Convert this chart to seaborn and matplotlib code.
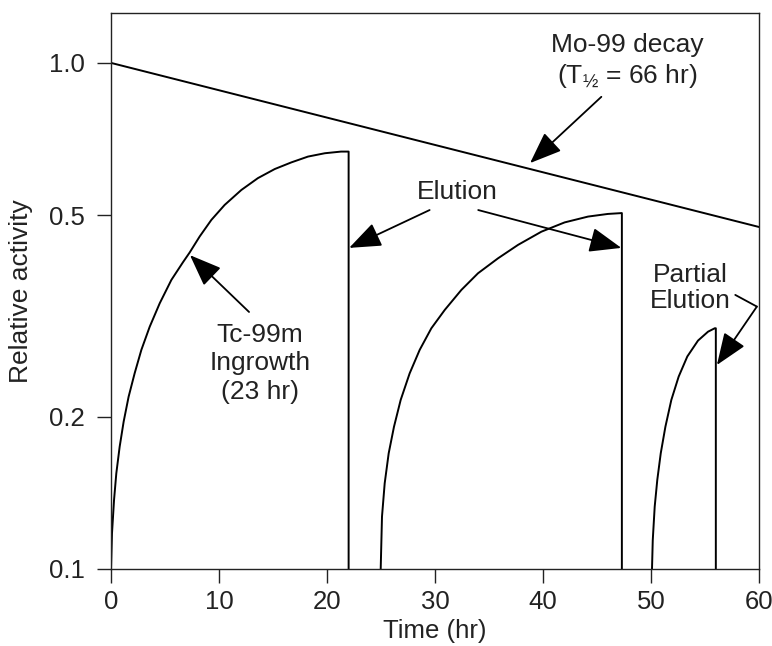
import pandas as pd
import matplotlib
matplotlib.use('Agg')
import matplotlib.pyplot as plt
import seaborn as sns

# Mo-99 parent decay (straight line on log axis)
mo_t = [0.0, 60.0]
mo_a = [1.0, 0.474]

# Tc-99m ingrowth, first cycle (eluted at 22 hr)
tc1_t = [0.0, 0.09, 0.28, 0.49, 0.80, 1.17, 1.63, 2.19, 2.81, 3.58, 4.51, 5.59, 6.67, 7.28,
         8.21, 9.29, 10.52, 12.07, 13.6, 15.16, 16.7, 18.24, 19.8, 21.3, 22.0, 22.0]
tc1_a = [0.1, 0.1176, 0.1369, 0.1545, 0.1744, 0.1955, 0.219, 0.2437, 0.271, 0.301, 0.335,
         0.3726, 0.404, 0.422, 0.454, 0.4895, 0.524, 0.561, 0.592, 0.617, 0.636, 0.653,
         0.663, 0.668, 0.668, 0.1]

# second cycle (25 hr -> 47.3 hr)
tc2_t = [24.97, 25.09, 25.34, 25.71, 26.2, 26.82, 27.65, 28.58, 29.66, 30.9, 32.44, 33.98,
         35.83, 37.69, 39.85, 42.0, 44.17, 46.0, 47.3, 47.3]
tc2_a = [0.1, 0.1269, 0.1477, 0.1693, 0.191, 0.2158, 0.2435, 0.271, 0.299, 0.325, 0.356,
         0.384, 0.411, 0.437, 0.464, 0.484, 0.497, 0.503, 0.505, 0.1]

# partial elution cycle (50 hr -> 56 hr)
tc3_t = [50.09, 50.16, 50.34, 50.58, 50.9, 51.33, 51.88, 52.56, 53.36, 54.35, 55.28, 55.9,
         56.0, 56.0]
tc3_a = [0.1, 0.114, 0.1328, 0.150, 0.1693, 0.191, 0.2158, 0.240, 0.263, 0.2827, 0.2944,
         0.299, 0.299, 0.1]

y_ticks = [0.1, 0.2, 0.5, 1.0]
y_labels = ['0.1', '0.2', '0.5', '1.0']
x_ticks = [0, 10, 20, 30, 40, 50, 60]

df = pd.concat([
    pd.DataFrame({'t': mo_t, 'a': mo_a, 'curve': 'mo'}),
    pd.DataFrame({'t': tc1_t, 'a': tc1_a, 'curve': 'tc1'}),
    pd.DataFrame({'t': tc2_t, 'a': tc2_a, 'curve': 'tc2'}),
    pd.DataFrame({'t': tc3_t, 'a': tc3_a, 'curve': 'tc3'}),
], ignore_index=True)

sns.set_style('ticks')
plt.rcParams['font.family'] = ['Liberation Sans', 'DejaVu Sans']
plt.rcParams['mathtext.fontset'] = 'custom'
plt.rcParams['mathtext.rm'] = 'Liberation Sans'
plt.rcParams['mathtext.it'] = 'Liberation Sans'

fig = plt.figure(figsize=(7.72, 6.46), dpi=100)
ax = fig.add_axes([0.1438, 0.1192, 0.8394, 0.8607])

palette = {'mo': 'black', 'tc1': 'black', 'tc2': 'black', 'tc3': 'black'}
sns.lineplot(data=df, x='t', y='a', hue='curve', units='curve', estimator=None,
             sort=False, palette=palette, linewidth=1.4, legend=False, ax=ax)

ax.set_yscale('log')
ax.set_xlim(0, 60)
ax.set_ylim(0.1, 1.255)
ax.set_yticks(y_ticks)
ax.set_yticklabels(y_labels)
ax.yaxis.set_minor_locator(matplotlib.ticker.NullLocator())
ax.set_xticks(x_ticks)

for s in ax.spines.values():
    s.set_linewidth(1.0)
    s.set_color('#222222')
fs = 19
ax.tick_params(direction='out', length=10, width=1.0, labelsize=18.5, colors='#222222')
ax.tick_params(axis='y', pad=9)
ax.tick_params(axis='x', pad=5)

ax.set_xlabel('Time (hr)', fontsize=18.5, color='#222222', labelpad=4)
ax.set_ylabel('Relative activity', fontsize=fs, color='#222222')
ax.yaxis.set_label_coords(-0.12, 0.5)

arrow = dict(arrowstyle='-|>,head_length=0.9,head_width=0.35', mutation_scale=22,
             lw=1.3, color='black', shrinkA=0, shrinkB=0)

ax.text(47.8, 1.005, 'Mo-99 decay\n(T$_{½}$ = 66 hr)', ha='center', va='center',
        fontsize=fs, color='#222222', linespacing=1.25)
ax.annotate('', xy=(38.8, 0.634), xytext=(45.4, 0.857), arrowprops=arrow)

ax.text(32.1, 0.556, 'Elution', ha='center', va='center', fontsize=fs, color='#222222')
ax.annotate('', xy=(22.05, 0.431), xytext=(29.5, 0.512), arrowprops=arrow)
ax.annotate('', xy=(47.25, 0.431), xytext=(34.0, 0.512), arrowprops=arrow)

ax.text(13.8, 0.255, 'Tc-99m\nIngrowth\n(23 hr)', ha='center', va='center',
        fontsize=fs, color='#222222', linespacing=1.25)
ax.annotate('', xy=(7.31, 0.417), xytext=(12.78, 0.322), arrowprops=arrow)

ax.text(53.6, 0.359, 'Partial\nElution', ha='center', va='center',
        fontsize=fs, color='#222222', linespacing=1.15)
ax.plot([57.8, 59.8], [0.348, 0.330], color='black', lw=1.3)
ax.annotate('', xy=(56.1, 0.253), xytext=(59.8, 0.330), arrowprops=arrow)

fig.savefig('out.png', dpi=100)
